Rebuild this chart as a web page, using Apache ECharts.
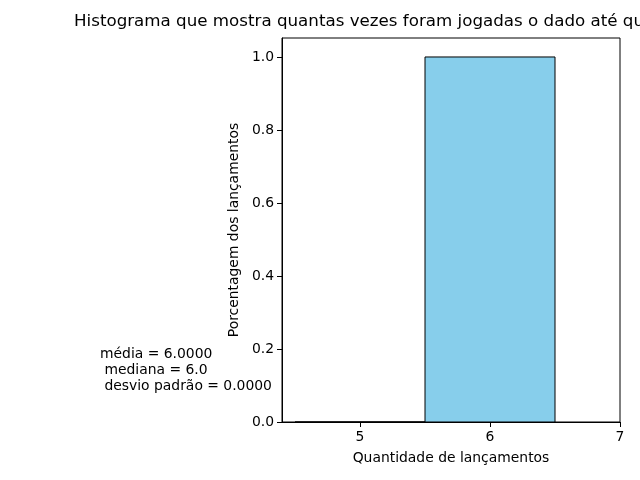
<!DOCTYPE html>
<html>
<head>
    <meta charset="UTF-8"/>
    <script type="text/javascript" src="https://cdn.jsdelivr.net/npm/echarts@6/dist/echarts.min.js"></script>
    <title>Histograma</title>
    <style>
        html, body {margin: 0; padding: 0; background: #fff;}
        #main {width: 640px; height: 480px;}
    </style>
</head>
<body>
<div id="main"></div>
<script type="text/javascript">
    // limites das classes e altura de cada barra
    var binEdges = [4.5, 5.5, 6.5]
    var binHeights = [0, 1]
    var xTicks = [5, 6, 7]
    var yTicks = [0, 0.2, 0.4, 0.6, 0.8, 1.0]
    var statsLines = ['média = 6.0000', ' mediana = 6.0', ' desvio padrão = 0.0000']

    var bins = []
    for (var i = 0; i < binHeights.length; i++) {
        bins.push([binEdges[i], binEdges[i + 1], binHeights[i]])
    }

    var font = 'DejaVu Sans'
    var myChart = echarts.init(document.getElementById('main'))

    var option = {
        animation: false,
        grid: {
            left: 282, right: 20, top: 38, bottom: 58,
            show: true, borderColor: '#000', borderWidth: 1
        },
        xAxis: {
            type: 'value',
            min: 4.4,
            max: 7,
            name: 'Quantidade de lançamentos',
            nameLocation: 'middle',
            nameGap: 29,
            nameTextStyle: {fontFamily: font, fontSize: 13.9, color: '#000'},
            axisLine: {show: true, onZero: false, lineStyle: {color: '#000'}},
            axisTick: {show: true, customValues: xTicks, length: 5, lineStyle: {color: '#000'}},
            axisLabel: {customValues: xTicks, fontFamily: font, fontSize: 13.9, color: '#000', margin: 8},
            splitLine: {show: false}
        },
        yAxis: {
            type: 'value',
            min: 0,
            max: 1.052,
            name: 'Porcentagem dos lançamentos',
            nameLocation: 'middle',
            nameGap: 36,
            nameTextStyle: {fontFamily: font, fontSize: 13.9, color: '#000'},
            axisLine: {show: true, lineStyle: {color: '#000'}},
            axisTick: {show: true, customValues: yTicks, length: 5, lineStyle: {color: '#000'}},
            axisLabel: {
                customValues: yTicks, fontFamily: font, fontSize: 13.9, color: '#000', margin: 8,
                formatter: function (v) { return v.toFixed(1) }
            },
            splitLine: {show: false}
        },
        graphic: [
            {
                type: 'text', left: 74, top: 13,
                style: {
                    text: 'Histograma que mostra quantas vezes foram jogadas o dado até que saísse o número 6',
                    font: '16.7px DejaVu Sans', fill: '#000'
                }
            },
            {
                type: 'text', left: 100, top: 346,
                style: {
                    text: statsLines.join('\n'),
                    font: '13.9px DejaVu Sans', fill: '#000', lineHeight: 16
                }
            }
        ],
        series: [{
            type: 'custom',
            data: bins,
            renderItem: function (params, api) {
                var p0 = api.coord([api.value(0), api.value(2)])
                var p1 = api.coord([api.value(1), 0])
                return {
                    type: 'rect',
                    shape: {x: p0[0], y: p0[1], width: p1[0] - p0[0], height: p1[1] - p0[1]},
                    style: {fill: '#87CEEB', stroke: '#000', lineWidth: 1}
                }
            }
        }]
    }

    myChart.setOption(option)
</script>
</body>
</html>
